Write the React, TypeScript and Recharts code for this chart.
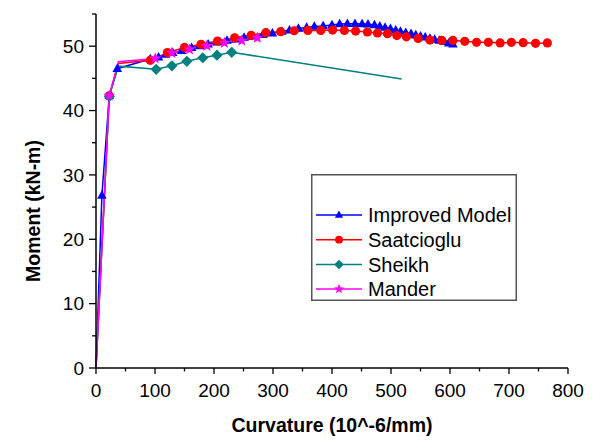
import React from 'react';
import { LineChart, Line, XAxis, YAxis } from 'recharts';

// ---- Data (curvature in 10^-6/mm, moment in kN-m) ----
const improvedX = [0, 10, 22.5, 36, 92, 106, 118, 130, 145, 162, 176, 190, 206, 222, 237, 251, 265, 283, 299, 315, 328, 343, 357, 370, 385, 400, 413, 426, 439, 451, 461, 472, 481, 490, 499, 508, 516, 525, 534, 542, 550, 558, 566, 574, 582, 590, 598, 605];
const improvedY = [0, 26.8, 42.3, 46.5, 48.0, 48.3, 48.7, 49.0, 49.3, 49.75, 50.05, 50.3, 50.6, 50.9, 51.1, 51.35, 51.55, 51.8, 52.0, 52.3, 52.5, 52.75, 52.9, 53.05, 53.15, 53.3, 53.45, 53.5, 53.5, 53.45, 53.4, 53.3, 53.1, 52.9, 52.7, 52.5, 52.3, 52.1, 51.95, 51.75, 51.55, 51.4, 51.2, 51.05, 50.9, 50.7, 50.45, 50.3];

const saatciogluX = [0, 22.5, 38, 92, 121, 150, 178, 206, 235, 263, 288, 313, 336, 359, 381, 401, 421, 440, 460, 477, 494, 510, 526, 546, 566, 586, 605, 625, 645, 665, 685, 704, 724, 745, 765];
const saatciogluY = [0, 42.3, 47.3, 47.8, 49.0, 49.8, 50.3, 50.8, 51.3, 51.7, 52.1, 52.25, 52.4, 52.45, 52.45, 52.5, 52.45, 52.35, 52.2, 52.05, 51.95, 51.65, 51.45, 51.2, 50.95, 50.9, 50.9, 50.75, 50.6, 50.6, 50.5, 50.6, 50.55, 50.45, 50.5];

const sheikhX = [0, 22.5, 38, 102, 128.6, 154, 181, 205, 230, 518];
const sheikhY = [0, 42.2, 46.9, 46.4, 46.95, 47.65, 48.2, 48.6, 49.05, 44.9];

const manderX = [0, 22.5, 38, 100.4, 128.6, 158.5, 188, 217.7, 247, 273.5];
const manderY = [0, 42.3, 47.6, 48.1, 48.95, 49.5, 50.05, 50.5, 50.85, 51.3];

// points drawn without a marker (indices)
const improvedNoMarker = [0];
const saatciogluNoMarker = [0, 2];
const sheikhNoMarker = [0, 2, 9];
const manderNoMarker = [0, 2];

const xTicks = [0, 50, 100, 150, 200, 250, 300, 350, 400, 450, 500, 550, 600, 650, 700, 750, 800];
const yTicks = [0, 5, 10, 15, 20, 25, 30, 35, 40, 45, 50, 55];

const seriesNames = ['Improved Model', 'Saatcioglu', 'Sheikh', 'Mander'];
const seriesColors = ['#0000FF', '#FF0000', '#008080', '#FF00FF'];

const toData = (xs: number[], ys: number[]) => xs.map((x, i) => ({ x, y: ys[i] }));

const FONT = '"Liberation Sans", Arial, Helvetica, sans-serif';

type Shape = 'triangle' | 'circle' | 'diamond' | 'star';
const seriesShapes: Shape[] = ['triangle', 'circle', 'diamond', 'star'];

function Marker({ cx, cy, shape, color, s = 1 }: { cx: number; cy: number; shape: Shape; color: string; s?: number }) {
  if (shape === 'triangle') {
    return <path d={`M${cx},${cy - 5.2 * s} L${cx + 4.8 * s},${cy + 3.3 * s} L${cx - 4.8 * s},${cy + 3.3 * s} Z`} fill={color} />;
  }
  if (shape === 'circle') {
    return <circle cx={cx} cy={cy} r={4.6 * s} fill={color} />;
  }
  if (shape === 'diamond') {
    return <path d={`M${cx},${cy - 5.6 * s} L${cx + 5.6 * s},${cy} L${cx},${cy + 5.6 * s} L${cx - 5.6 * s},${cy} Z`} fill={color} />;
  }
  const pts: string[] = [];
  for (let i = 0; i < 10; i++) {
    const r = (i % 2 === 0 ? 6.2 : 2.6) * s;
    const a = -Math.PI / 2 + (i * Math.PI) / 5;
    pts.push(`${cx + r * Math.cos(a)},${cy + r * Math.sin(a)}`);
  }
  return <polygon points={pts.join(' ')} fill={color} />;
}

const makeDot = (shape: Shape, color: string, skip: number[]) => (props: any) => {
  const { cx, cy, index } = props;
  if (skip.includes(index) || cx == null || cy == null) return <g key={`d-${index}`} />;
  return (
    <g key={`d-${index}`}>
      <Marker cx={cx} cy={cy} shape={shape} color={color} />
    </g>
  );
};

const XTick = (props: any) => {
  const { x, y, payload } = props;
  const v = payload.value;
  const major = v % 100 === 0;
  return (
    <g>
      <line x1={x} x2={x} y1={y} y2={y + (major ? 6 : 3.5)} stroke="#000" strokeWidth={1.3} />
      {major && (
        <text x={x} y={y + 22} dy="0.36em" textAnchor="middle" fontSize={19} fontFamily={FONT} fill="#000">
          {v}
        </text>
      )}
    </g>
  );
};

const YTick = (props: any) => {
  const { x, y, payload } = props;
  const v = payload.value;
  const major = v % 10 === 0;
  return (
    <g>
      <line x1={x - (major ? 7 : 4)} x2={x} y1={y} y2={y} stroke="#000" strokeWidth={1.3} />
      {major && (
        <text x={x - 12} y={y} dy="0.36em" textAnchor="end" fontSize={19} fontFamily={FONT} fill="#000">
          {v}
        </text>
      )}
    </g>
  );
};

const LegendBox = () => (
  <svg width={206} height={130} style={{ display: 'block', overflow: 'visible' }}>
    <rect x={0.75} y={0.75} width={204.5} height={125.5} fill="#fff" stroke="#555" strokeWidth={1.5} />
    {seriesNames.map((name, i) => {
      const cy = 41 + i * 24.7;
      return (
        <g key={name}>
          <line x1={5} x2={51} y1={cy} y2={cy} stroke={seriesColors[i]} strokeWidth={1.5} />
          <Marker cx={28} cy={cy} shape={seriesShapes[i]} color={seriesColors[i]} s={0.85} />
          <text x={57} y={cy} dy="0.36em" fontSize={20} fontFamily={FONT} fill="#000">
            {name}
          </text>
        </g>
      );
    })}
  </svg>
);

export default function App() {
  const datasets = [
    toData(improvedX, improvedY),
    toData(saatciogluX, saatciogluY),
    toData(sheikhX, sheikhY),
    toData(manderX, manderY),
  ];
  const skips = [improvedNoMarker, saatciogluNoMarker, sheikhNoMarker, manderNoMarker];
  return (
    <div style={{ position: 'absolute', left: 0, top: 0, width: 612, height: 440, background: '#fff' }}>
      <LineChart width={612} height={440} margin={{ top: 14, right: 44, bottom: 0, left: 0 }}>
        <XAxis
          type="number"
          dataKey="x"
          domain={[0, 800]}
          ticks={xTicks}
          interval={0}
          tickSize={0}
          tickMargin={0}
          tickLine={false}
          tick={<XTick />}
          height={72}
          axisLine={{ stroke: '#000', strokeWidth: 1.5 }}
          allowDuplicatedCategory={false}
          label={{
            content: () => (
              <text x={332} y={425} dy="0.36em" textAnchor="middle" fontSize={19.5} fontWeight="bold" fontFamily={FONT} fill="#000">
                Curvature (10^-6/mm)
              </text>
            ),
          }}
        />
        <YAxis
          type="number"
          dataKey="y"
          domain={[0, 55]}
          ticks={yTicks}
          interval={0}
          tickSize={0}
          tickMargin={0}
          tickLine={false}
          tick={<YTick />}
          width={96}
          axisLine={{ stroke: '#000', strokeWidth: 1.5 }}
          label={{
            content: () => (
              <text
                x={33}
                y={211}
                dy="0.36em"
                transform="rotate(-90 33 211)"
                textAnchor="middle"
                fontSize={19.5}
                fontWeight="bold"
                fontFamily={FONT}
                fill="#000"
              >
                Moment (kN-m)
              </text>
            ),
          }}
        />
        {datasets.map((d, i) => (
          <Line
            key={seriesNames[i]}
            data={d}
            dataKey="y"
            name={seriesNames[i]}
            type="linear"
            stroke={seriesColors[i]}
            strokeWidth={1.5}
            dot={makeDot(seriesShapes[i], seriesColors[i], skips[i])}
            activeDot={false}
            isAnimationActive={false}
          />
        ))}
      </LineChart>
      <div style={{ position: 'absolute', left: 311, top: 174 }}>
        <LegendBox />
      </div>
    </div>
  );
}
